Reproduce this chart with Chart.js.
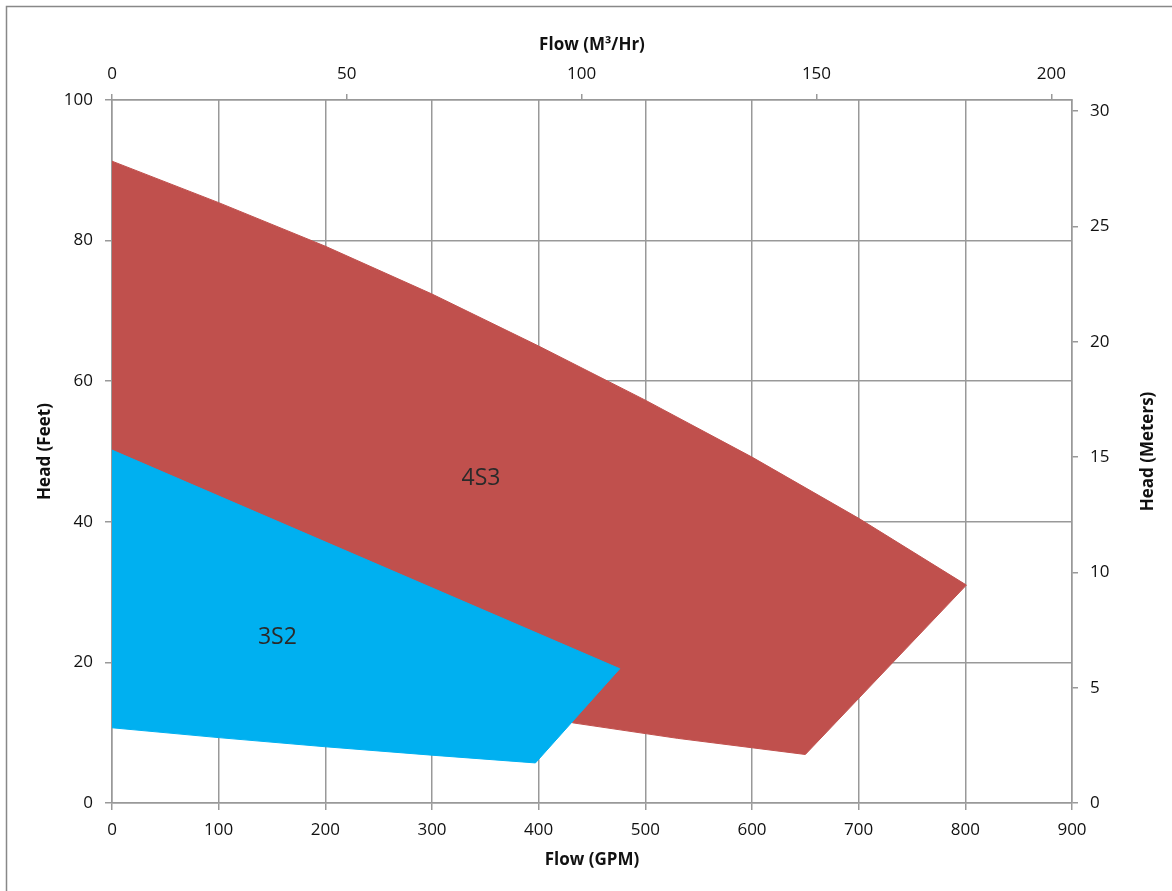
<!DOCTYPE html>
<html>
<head>
<meta charset="utf-8">
<script src="https://cdn.jsdelivr.net/npm/chart.js@4.4.1/dist/chart.umd.min.js"></script>
<style>
    html,body{margin:0;padding:0;background:#fff;}
    canvas{display:block;}
</style>
</head>
<body>
<canvas id="chart" width="1172" height="891"></canvas>
<script>
// Poligono 4S3 (caudal GPM, altura pies) - curva superior, luego borde inferior
const gpm4S3=[0,100,200,300,400,500,600,700,801,650,530,432,0]
const pies4S3=[91.3,85.4,79.2,72.4,65.0,57.3,49.2,40.5,31.0,6.9,9.2,11.4,50.2]

// Poligono 3S2
const gpm3S2=[0,476,397,300,200,100,0]
const pies3S2=[50.2,19.1,5.7,6.8,8.0,9.3,10.7]

// Etiquetas de cada zona
const nombres=['4S3','3S2']
const nombresGpm=[346,155]
const nombresPies=[46.1,23.6]

// Conversiones para los ejes secundarios
const GPM_A_M3H=0.22712
const PIES_A_METROS=0.3048

const gris='#999'
const fuente="'Open Sans', sans-serif"
Chart.defaults.font.family=fuente
Chart.defaults.font.size=17
Chart.defaults.color='#111'

function puntos(xs, ys){
    const lista=xs.map((x,i)=>({x:x, y:ys[i]}))
    lista.push({x:xs[0], y:ys[0]})
    return lista
}

const marcoPlugin={
    id:'marco',
    beforeDraw(chart){
        const ctx=chart.ctx
        ctx.save()
        ctx.strokeStyle='#888'
        ctx.lineWidth=1.5
        ctx.strokeRect(6.5,6.5,1400,1000)
        ctx.restore()
    }
}

const etiquetasPlugin={
    id:'etiquetas',
    afterDatasetsDraw(chart){
        const {ctx, scales:{x,y}}=chart
        ctx.save()
        ctx.font=`23px ${fuente}`
        ctx.fillStyle='#2a2a2a'
        ctx.textAlign='center'
        ctx.textBaseline='middle'
        nombres.forEach((n,i)=>{
            ctx.fillText(n, x.getPixelForValue(nombresGpm[i]), y.getPixelForValue(nombresPies[i]))
        })

        // titulo del eje derecho, leido de abajo hacia arriba como el izquierdo
        const area=chart.chartArea
        ctx.font=`bold 17px ${fuente}`
        ctx.fillStyle='#111'
        ctx.translate(chart.width-24, (area.top+area.bottom)/2)
        ctx.rotate(-Math.PI/2)
        ctx.fillText('Head (Meters)',0,0)
        ctx.restore()
    }
}

const tituloFont={size:17, weight:'bold', family:fuente}

const chart=new Chart(document.getElementById('chart'),{
    type:'scatter',
    data:{
        datasets:[{
            label:'3S2',
            data:puntos(gpm3S2,pies3S2),
            showLine:true,
            fill:'shape',
            backgroundColor:'#00b0f0',
            borderColor:'#00b0f0',
            borderWidth:1,
            pointRadius:0,
            tension:0
        },{
            label:'4S3',
            data:puntos(gpm4S3,pies4S3),
            showLine:true,
            fill:'shape',
            backgroundColor:'#c0504d',
            borderColor:'#c0504d',
            borderWidth:1,
            pointRadius:0,
            tension:0
        }]
    },
    options:{
        responsive:false,
        animation:false,
        layout:{padding:0},
        plugins:{legend:{display:false}, tooltip:{enabled:false}},
        scales:{
            x:{
                type:'linear', position:'bottom', min:0, max:900,
                ticks:{stepSize:100, padding:10, maxRotation:0, autoSkip:false},
                grid:{color:gris, lineWidth:1.5, tickLength:7},
                border:{color:gris, width:1.5},
                title:{display:true, text:'Flow (GPM)', font:tituloFont, padding:{top:0,bottom:21}},
                afterFit:e=>{e.height=88}
            },
            x2:{
                type:'linear', position:'top', min:0, max:900*GPM_A_M3H,
                ticks:{stepSize:50, padding:10, maxRotation:0, includeBounds:false},
                grid:{color:gris, lineWidth:1.5, tickLength:6, drawOnChartArea:false},
                border:{color:gris, width:1.5},
                title:{display:true, text:'Flow (M³/Hr)', font:tituloFont, padding:{top:35,bottom:0}},
                afterFit:e=>{e.height=100}
            },
            y:{
                type:'linear', position:'left', min:0, max:100,
                ticks:{stepSize:20, padding:12},
                grid:{color:gris, lineWidth:1.5, tickLength:7},
                border:{color:gris, width:1.5},
                title:{display:true, text:'Head (Feet)', font:tituloFont, padding:{top:35,bottom:0}},
                afterFit:e=>{e.width=112}
            },
            y2:{
                type:'linear', position:'right', min:0, max:100*PIES_A_METROS,
                ticks:{stepSize:5, padding:12, includeBounds:false},
                grid:{color:gris, lineWidth:1.5, tickLength:6, drawOnChartArea:false},
                border:{color:gris, width:1.5},
                title:{display:false},
                afterFit:e=>{e.width=100}
            }
        }
    },
    plugins:[marcoPlugin, etiquetasPlugin]
})
</script>
</body>
</html>
